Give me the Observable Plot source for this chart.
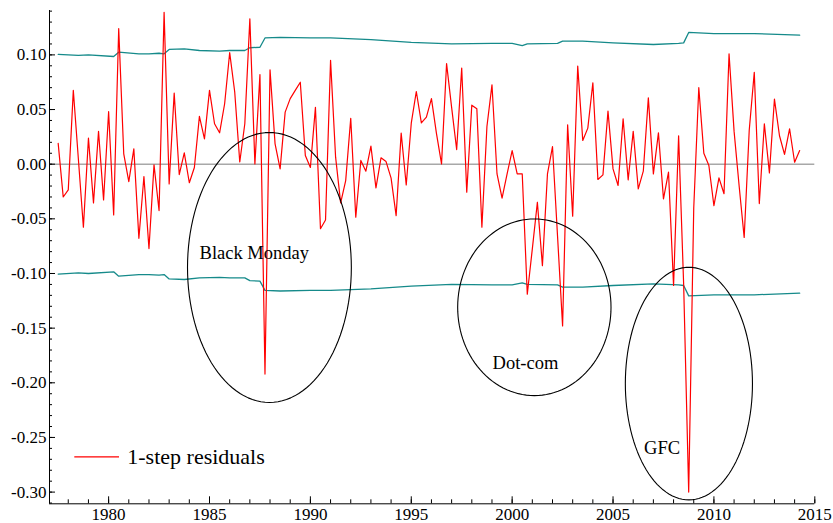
<!DOCTYPE html>
<html>
<head>
<meta charset="utf-8">
<script src="https://cdn.jsdelivr.net/npm/d3@7"></script>
<script src="https://cdn.jsdelivr.net/npm/@observablehq/plot@0.6"></script>
<style>
  body { margin: 0; background: #fff; }
  #chart svg { display: block; }
</style>
</head>
<body>
<div id="chart"></div>
<script>
// ---- data ----
const startYear = 1977.5;   // first quarter shown
const stepYears = 0.25;     // quarterly observations

const residuals = [
  0.019, -0.030, -0.0235, 0.0675, 0.005, -0.0577, 0.0238, -0.0354, 0.030, -0.0327,
  0.048, -0.0464, 0.124, 0.0095, -0.0159, 0.014, -0.0678, -0.0113, -0.0772, -0.0006,
  -0.0424, 0.139, -0.018, 0.065, -0.0095, 0.0104, -0.017, -0.003, 0.0437, 0.0232,
  0.0675, 0.037, 0.0287, 0.0553, 0.102, 0.066, 0.002, 0.037, 0.133, 0.0003,
  0.082, -0.192, 0.0864, 0.0186, -0.0043, 0.0476, 0.060, 0.0675, 0.075, 0.008,
  -0.003, 0.052, -0.059, -0.051, 0.095, 0.0064, -0.0354, -0.015, 0.042, -0.0485,
  0.0034, -0.0064, 0.0165, -0.0217, 0.0058, 0.0024, -0.0128, -0.047, 0.0284, -0.019,
  0.0375, 0.0665, 0.0378, 0.043, 0.060, 0.028, 0.0003, 0.092, 0.052, 0.0134,
  0.088, -0.0256, 0.054, 0.0507, -0.0577, 0.0345, 0.0726, -0.0089, -0.031, -0.0089,
  0.0125, -0.0089, -0.0089, -0.119, -0.0775, -0.0348, -0.0928, -0.0089, 0.016, -0.066,
  -0.148, 0.036, -0.0476, 0.0897, 0.0217, 0.033, 0.0745, -0.014, -0.0098, 0.0485,
  -0.0043, -0.0195, 0.0415, -0.0143, 0.030, -0.0226, -0.0064, 0.0607, -0.0089, 0.0287,
  -0.0317, -0.0073, -0.111, 0.026, -0.110, -0.300, -0.040, 0.070, 0.010, -0.0012,
  -0.038, -0.0125, -0.027, 0.101, 0.030, -0.020, -0.067, 0.031, 0.084, -0.036,
  0.037, -0.008, 0.0595, 0.026, 0.0089, 0.0324, 0.0018, 0.0125
];

// +/- 2 standard-error band (upper shown, lower is its mirror)
const bandYears = [
  1977.5, 1978.5, 1979.0, 1980.25, 1980.5, 1981.5, 1982.0, 1982.5, 1982.75, 1983.0,
  1983.75, 1984.5, 1985.5, 1986.0, 1986.75, 1987.0, 1987.5, 1987.75, 1988.5, 1990.0,
  1991.0, 1993.0, 1995.0, 1997.0, 1999.0, 2000.0, 2000.5, 2000.75, 2002.25, 2002.5,
  2003.5, 2005.0, 2007.0, 2008.25, 2008.5, 2008.75, 2010.0, 2012.0, 2014.25
];
const bandValues = [
  0.1005, 0.0995, 0.1000, 0.0985, 0.1025, 0.1010, 0.1010, 0.1015, 0.1010, 0.1050,
  0.1055, 0.1040, 0.1035, 0.1040, 0.1040, 0.1065, 0.1070, 0.1155, 0.1160, 0.1155,
  0.1155, 0.1140, 0.1115, 0.1100, 0.1105, 0.1105, 0.1085, 0.1100, 0.1105, 0.1125,
  0.1125, 0.1110, 0.1095, 0.1105, 0.1110, 0.1205, 0.1195, 0.1195, 0.1180
];

const yTickValues = [0.10, 0.05, 0.00, -0.05, -0.10, -0.15, -0.20, -0.25, -0.30];
const xTickValues = [1980, 1985, 1990, 1995, 2000, 2005, 2010, 2015];

const annotationLabels = ["Black Monday", "Dot-com", "GFC"];
const annotationYears = [1987.22, 2000.66, 2007.43];
const annotationValues = [-0.0817, -0.1821, -0.2595];

const ellipseCenterYears = [1987.97, 2001.10, 2008.76];
const ellipseCenterValues = [-0.0945, -0.1309, -0.2007];
const ellipseRadiusYears = [4.06, 3.80, 3.15];
const ellipseRadiusValues = [0.1235, 0.0808, 0.1064];

const legendLabel = "1-step residuals";

// ---- build tables ----
const resData = residuals.map((v, i) => ({ year: startYear + i * stepYears, value: v }));
const bandUpper = bandYears.map((y, i) => ({ year: y, value: bandValues[i] }));
const bandLower = bandYears.map((y, i) => ({ year: y, value: -bandValues[i] }));
const annotations = annotationLabels.map((t, i) => ({ text: t, year: annotationYears[i], value: annotationValues[i] }));
const ellipsePts = [];
ellipseCenterYears.forEach((cx, i) => {
  for (let a = 0; a <= 360; a += 3) {
    const t = a * Math.PI / 180;
    ellipsePts.push({
      id: i,
      year: cx + ellipseRadiusYears[i] * Math.cos(t),
      value: ellipseCenterValues[i] + ellipseRadiusValues[i] * Math.sin(t)
    });
  }
});
const yMinorTicks = d3.range(-31, 15).map(i => i / 100);
const xMinorTicks = d3.range(1978, 2016);

// ---- layout ----
const width = 833, height = 523;
const marginLeft = 49, marginRight = 18.7, marginTop = 10, marginBottom = 19.7;
const plotW = width - marginLeft - marginRight;
const plotH = height - marginTop - marginBottom;
const xDomain = [1977.07, 2015];
const yDomain = [-0.3107, 0.1406];
const fmt = d => d3.format(".2f")(d).replace("\u2212", "-");

const chart = Plot.plot({
  width, height, marginLeft, marginRight, marginTop, marginBottom,
  x: { domain: xDomain },
  y: { domain: yDomain },
  style: { fontFamily: "'Liberation Serif', 'Times New Roman', serif", fontSize: "17px", background: "white", overflow: "visible" },
  marks: [
    Plot.ruleY([0], { stroke: "#a8a8a8", strokeWidth: 1.5 }),
    Plot.line(bandUpper, { x: "year", y: "value", stroke: "#158a8a", strokeWidth: 1.3 }),
    Plot.line(bandLower, { x: "year", y: "value", stroke: "#158a8a", strokeWidth: 1.3 }),
    Plot.line(resData, { x: "year", y: "value", stroke: "#ff0000", strokeWidth: 1.2 }),
    Plot.line(ellipsePts, { x: "year", y: "value", z: "id", stroke: "black", strokeWidth: 1.1 }),
    Plot.text(annotations, { x: "year", y: "value", text: "text", fontSize: 18.5, fill: "black" }),
    // axis lines
    Plot.ruleX([xDomain[0]], { stroke: "black", strokeWidth: 1 }),
    Plot.ruleY([yDomain[0]], { stroke: "black", strokeWidth: 1 }),
    // inward ticks
    Plot.tickY(yTickValues, { y: d => d, insetRight: plotW - 6, stroke: "black" }),
    Plot.tickY(yMinorTicks, { y: d => d, insetRight: plotW - 3, stroke: "black" }),
    Plot.tickX(xTickValues, { x: d => d, insetTop: plotH - 7, stroke: "black" }),
    Plot.tickX(xMinorTicks, { x: d => d, insetTop: plotH - 4, stroke: "black" }),
    // tick labels
    Plot.axisY({ ticks: yTickValues, tickSize: 0, tickPadding: 3, tickFormat: fmt, label: null }),
    Plot.axisX({ ticks: xTickValues, tickSize: 0, tickPadding: 4, tickFormat: d => String(d), label: null }),
    // legend inside the frame
    (index, scales, values, dims) => {
      const g = d3.create("svg:g");
      const y0 = dims.height - dims.marginBottom - 46.5;
      const x0 = dims.marginLeft;
      g.append("line")
        .attr("x1", x0 + 25.3).attr("x2", x0 + 70)
        .attr("y1", y0).attr("y2", y0)
        .attr("stroke", "#ff0000").attr("stroke-width", 1.2);
      g.append("text")
        .attr("x", x0 + 78.3).attr("y", y0 + 6.8)
        .attr("text-anchor", "start")
        .style("font-size", "22px").attr("fill", "black")
        .text(legendLabel);
      return g.node();
    }
  ]
});
document.getElementById("chart").appendChild(chart);
</script>
</body>
</html>
